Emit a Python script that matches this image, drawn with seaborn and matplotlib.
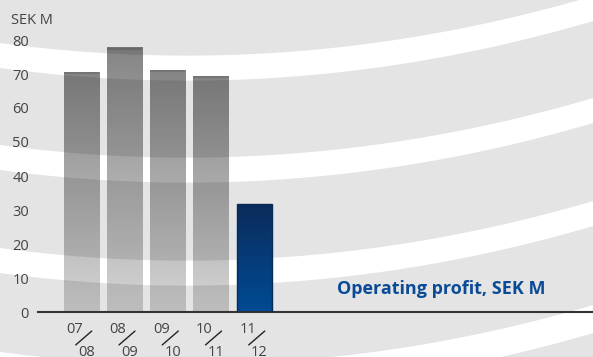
import numpy as np
import matplotlib.pyplot as plt
import seaborn as sns

# data
years_top = ["07", "08", "09", "10", "11"]
years_bottom = ["08", "09", "10", "11", "12"]
profit = [70.5, 77.8, 71.1, 69.3, 31.7]
y_ticks = [0, 10, 20, 30, 40, 50, 60, 70, 80]

sns.set_style("white")
plt.rcParams['font.family'] = ['Open Sans', 'DejaVu Sans']

W, H = 593, 357
fig = plt.figure(figsize=(W / 100, H / 100), dpi=100)

# background: light grey with white curved bands (pixel coords)
bg = fig.add_axes([0, 0, 1, 1], zorder=-1)
bg.set_xlim(0, W)
bg.set_ylim(H, 0)
bg.axis('off')
bg.add_patch(plt.Rectangle((0, 0), W, H, color='#e4e4e4', zorder=0))
xs = np.linspace(0, W, 300)
cx, a = 186.9, 3.61e-4
curve = a * (cx ** 2 - (xs - cx) ** 2)
for top, thick in [(43, 25), (145, 25), (248, 25), (352, 28)]:
    bg.fill_between(xs, top + curve, top + thick + curve, color='white', lw=0, zorder=1)

# main axes
ax = fig.add_axes([38 / W, (H - 312) / H, 1 - 38 / W, 272 / H])
ax.set_facecolor('none')
sns.barplot(x=years_top, y=profit, ax=ax, width=0.81, color='grey')

grey_grad = np.zeros((100, 1, 4))
grey_grad[:, 0, 3] = np.linspace(0.48, 0.17, 100)
blue_top = np.array([0x0b, 0x2c, 0x5c]) / 255
blue_bot = np.array([0x00, 0x4b, 0x93]) / 255
blue_grad = np.ones((100, 1, 4))
t = np.linspace(0, 1, 100)[:, None]
blue_grad[:, 0, :3] = blue_top * (1 - t) + blue_bot * t

for i, p in enumerate(ax.patches):
    x0, y0 = p.get_x(), p.get_y()
    w, h = p.get_width(), p.get_height()
    p.set_facecolor('none')
    if i < 4:
        p.set_edgecolor('none')
        img = ax.imshow(grey_grad, extent=[x0, x0 + w, y0, y0 + h], aspect='auto',
                        origin='upper', zorder=2)
        ax.plot([x0, x0 + w], [y0 + h - 0.3, y0 + h - 0.3], color='black', alpha=0.12, lw=1.5,
                solid_capstyle='butt', zorder=3)
    else:
        p.set_edgecolor('#082a57')
        p.set_linewidth(1.0)
        p.set_zorder(3)
        img = ax.imshow(blue_grad, extent=[x0, x0 + w, y0, y0 + h], aspect='auto',
                        origin='upper', zorder=2)
    img.set_clip_path(p)

ax.set_xlim(-1.0, (W - 38) / 43.25 - 1.0)
ax.set_ylim(0, 80)
ax.set_yticks(y_ticks)
ax.tick_params(axis='y', length=0, pad=6.5, labelsize=10.5, labelcolor='#444444')
ax.set_xticks([])
ax.set_xlabel('')
ax.set_ylabel('')
for s in ['top', 'right', 'left']:
    ax.spines[s].set_visible(False)
ax.spines['bottom'].set_color('#333333')
ax.spines['bottom'].set_linewidth(1.5)

# two-line period labels with a slash
tr = ax.get_xaxis_transform()
for i, (a1, a2) in enumerate(zip(years_top, years_bottom)):
    ax.text(i - 0.15, -0.063, a1, transform=tr, ha='center', va='center',
            fontsize=10.5, color='#444444', clip_on=False)
    ax.text(i + 0.116, -0.148, a2, transform=tr, ha='center', va='center',
            fontsize=10.5, color='#444444', clip_on=False)
    ax.plot([i - 0.127, i + 0.243], [-0.121, -0.070], transform=tr, color='#222222',
            lw=1.0, clip_on=False)

fig.text(11 / W, 1 - 21 / H, 'SEK M', ha='left', va='center', fontsize=10.5, color='#444444')
fig.text(337 / W, 1 - 289 / H, 'Operating profit, SEK M', ha='left', va='center',
         fontsize=13, fontweight='bold', color='#0a4b97')

fig.savefig('out.png', dpi=100)
